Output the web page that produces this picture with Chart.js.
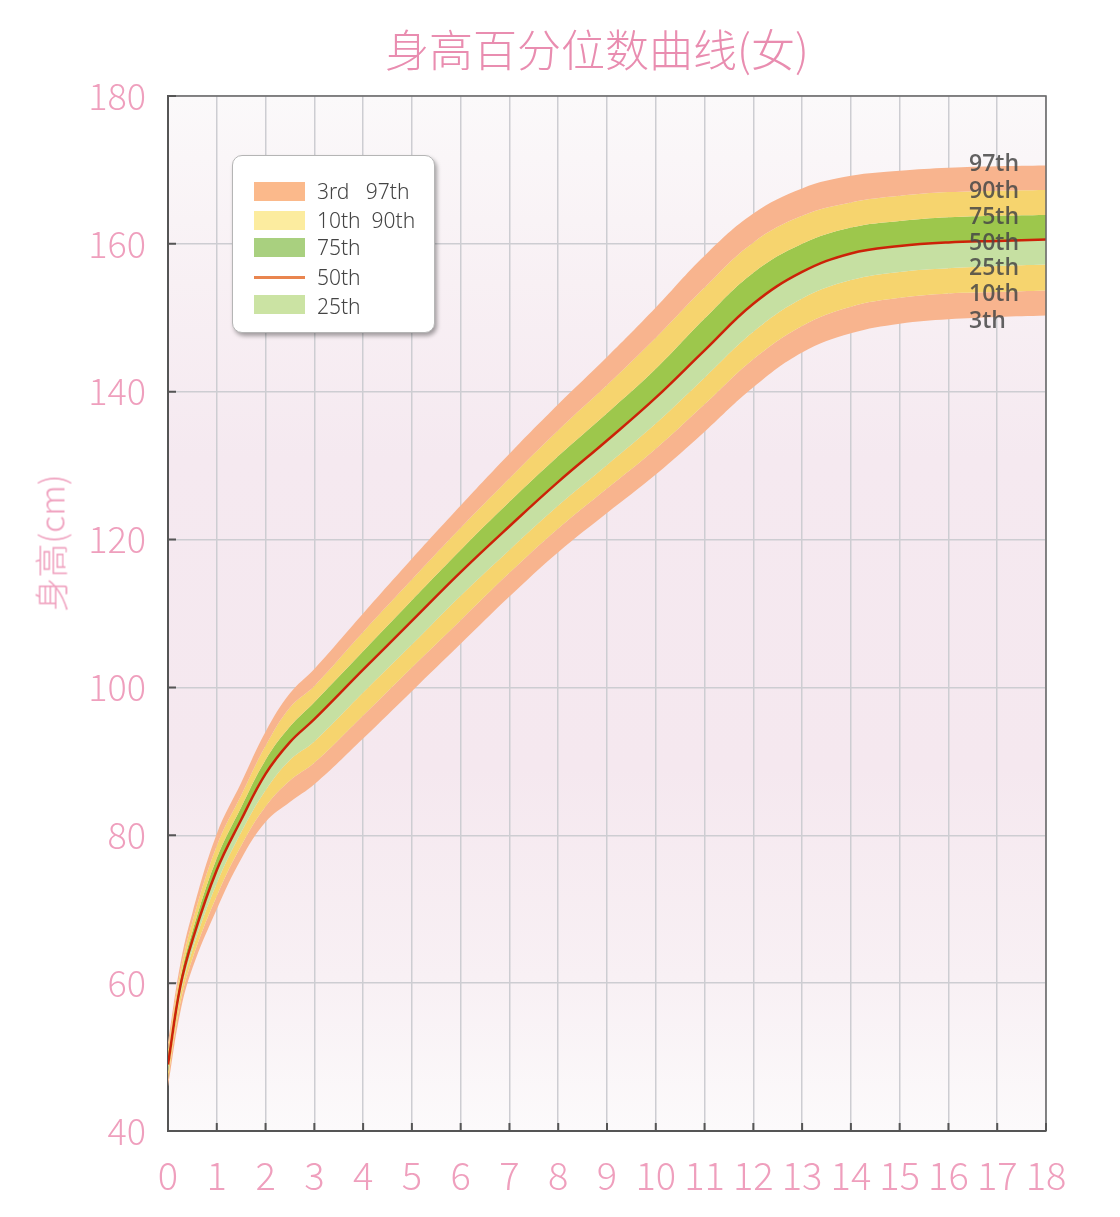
<!DOCTYPE html>
<html>
<head>
<meta charset="utf-8">
<script src="https://cdn.jsdelivr.net/npm/chart.js@4.4.1/dist/chart.umd.min.js"></script>
<style>
  html, body { margin: 0; padding: 0; background: #ffffff; }
  #wrap { position: relative; width: 1120px; height: 1217px; overflow: hidden; }
  canvas { position: absolute; left: 0; top: 0; }
  .title { position: absolute; left: 0; width: 1194px; top: 16px; text-align: center;
    font-family: "Noto Sans CJK SC", sans-serif; font-weight: 300; font-size: 44px; color: #e98db0; }
  .ytitle { position: absolute; left: 50px; top: 543px; transform: translate(-50%, -50%) rotate(-90deg);
    font-family: "Noto Sans CJK SC", sans-serif; font-weight: 300; font-size: 34px; color: #ef9fbd; white-space: nowrap; }
  .legend { position: absolute; left: 232px; top: 155px; width: 201px; height: 176px;
    background: #ffffff; border: 1.5px solid #b5b5b5; border-radius: 10px;
    box-shadow: 2px 3px 4px rgba(0,0,0,0.35); }
  .sw { position: absolute; left: 21px; width: 51px; height: 19px; }
  .lt { position: absolute; left: 84px; font-family: "Noto Sans", "Open Sans", sans-serif; font-weight: 300; font-size: 21px;
    color: #444; line-height: 22px; white-space: nowrap; }
  .rl { position: absolute; left: 969px; font-family: "Open Sans", "Noto Sans", sans-serif; font-weight: 600;
    font-size: 23px; color: rgba(70,70,70,0.85); line-height: 26px; }
</style>
</head>
<body>
<div id="wrap">
  <canvas id="c" width="1120" height="1217"></canvas>
  <div class="title">身高百分位数曲线(女)</div>
  <div class="ytitle">身高(cm)</div>
  <div class="legend">
    <div class="sw" style="top:26px;background:#fbb98b"></div>
    <div class="lt" style="top:24px">3rd&nbsp;&nbsp;&nbsp;97th</div>
    <div class="sw" style="top:55px;background:#fcec9f"></div>
    <div class="lt" style="top:53px">10th&nbsp;&nbsp;90th</div>
    <div class="sw" style="top:82px;background:#a9d07f"></div>
    <div class="lt" style="top:80px">75th</div>
    <div class="sw" style="top:120px;height:3px;background:#e9854f"></div>
    <div class="lt" style="top:110px">50th</div>
    <div class="sw" style="top:139px;background:#cbe3a3"></div>
    <div class="lt" style="top:139px">25th</div>
  </div>
  <div class="rl" style="top:149px">97th</div>
  <div class="rl" style="top:176px">90th</div>
  <div class="rl" style="top:202px">75th</div>
  <div class="rl" style="top:228px">50th</div>
  <div class="rl" style="top:253px">25th</div>
  <div class="rl" style="top:279px">10th</div>
  <div class="rl" style="top:306px">3th</div>
</div>
<script>
// ---- data (age in years, height in cm) ----
const ages = [0,0.25,0.5,1,1.5,2,2.5,3,4,5,6,7,8,9,10,11,12,13,14,15,16,17,18];
const p3  = [46.0,56.0,62.0,70.0,76.8,81.8,84.5,86.9,93.1,99.5,105.9,112.3,118.3,123.6,128.8,134.6,140.6,145.3,147.9,149.2,149.8,150.1,150.3];
const p10 = [47.0,57.2,63.3,71.8,78.6,83.9,87.4,89.8,96.2,102.7,109.1,115.5,121.5,126.9,132.3,138.3,144.4,148.9,151.5,152.7,153.3,153.5,153.7];
const p25 = [48.0,58.3,64.5,73.5,80.4,86.1,90.2,92.7,99.3,105.8,112.4,118.6,124.6,130.1,135.7,141.9,148.1,152.6,155.1,156.2,156.7,157.0,157.2];
const p50 = [49.0,59.5,65.8,75.3,82.1,88.3,92.6,95.7,102.4,109.0,115.6,121.8,127.8,133.4,139.2,145.6,151.9,156.2,158.7,159.7,160.2,160.4,160.6];
const p75 = [50.0,60.5,67.0,76.9,83.8,90.2,94.7,98.0,104.9,111.8,118.6,125.1,131.3,137.1,143.1,149.9,156.1,160.0,162.2,163.1,163.6,163.8,163.9];
const p90 = [51.0,61.5,68.3,78.6,85.4,92.1,97.3,100.2,107.5,114.6,121.6,128.3,134.8,140.9,147.3,154.1,160.2,163.8,165.6,166.5,167.0,167.2,167.3];
const p97 = [52.0,62.5,69.5,80.2,87.1,94.0,99.2,102.5,110.0,117.4,124.6,131.6,138.3,144.7,151.4,158.4,164.1,167.5,169.2,169.9,170.3,170.5,170.6];
const xTicks = [0,1,2,3,4,5,6,7,8,9,10,11,12,13,14,15,16,17,18];
const yTicks = [40,60,80,100,120,140,160,180];

const pts = arr => ages.map((a, i) => ({ x: a, y: arr[i] }));

const ORANGE = '#f8b48e', YELLOW = '#f6d46e', GREEN = '#9dc74c', LGREEN = '#c6e0a2', RED = '#cc2208';

function band(arr, color) {
  return { data: pts(arr), borderWidth: 0, borderColor: 'rgba(0,0,0,0)', backgroundColor: color,
    fill: '+1', pointRadius: 0, tension: 0.4, order: 1 };
}

const bgPlugin = {
  id: 'bg',
  beforeDraw(chart) {
    const { ctx, chartArea: a } = chart;
    const g = ctx.createLinearGradient(0, a.top, 0, a.bottom);
    g.addColorStop(0, '#fbf9fa');
    g.addColorStop(0.18, '#f8f0f4');
    g.addColorStop(0.35, '#f5e9f0');
    g.addColorStop(0.65, '#f5e8ef');
    g.addColorStop(0.85, '#f8f0f4');
    g.addColorStop(1, '#fcfafb');
    ctx.save();
    ctx.fillStyle = g;
    ctx.fillRect(a.left, a.top, a.right - a.left, a.bottom - a.top);
    ctx.restore();
  },
  afterDraw(chart) {
    const { ctx, chartArea: a, scales } = chart;
    ctx.save();
    ctx.strokeStyle = '#666';
    ctx.lineWidth = 1.5;
    ctx.beginPath();
    ctx.moveTo(a.left, a.top); ctx.lineTo(a.right, a.top); ctx.lineTo(a.right, a.bottom);
    ctx.stroke();
    ctx.strokeStyle = '#555';
    ctx.lineWidth = 2;
    ctx.beginPath();
    xTicks.forEach(t => { const x = scales.x.getPixelForValue(t); ctx.moveTo(x, a.bottom); ctx.lineTo(x, a.bottom - 8); });
    yTicks.forEach(t => { const y = scales.y.getPixelForValue(t); ctx.moveTo(a.left, y); ctx.lineTo(a.left + 8, y); });
    ctx.stroke();
    ctx.restore();
  }
};

new Chart(document.getElementById('c'), {
  type: 'line',
  data: {
    datasets: [
      band(p97, ORANGE),
      band(p90, YELLOW),
      band(p75, GREEN),
      band(p50, LGREEN),
      band(p25, YELLOW),
      band(p10, ORANGE),
      { data: pts(p3), borderWidth: 0, borderColor: 'rgba(0,0,0,0)', fill: false, pointRadius: 0, tension: 0.4, order: 1 },
      { data: pts(p50), borderWidth: 2.5, borderColor: RED, fill: false, pointRadius: 0, tension: 0.4, order: -1 }
    ]
  },
  options: {
    responsive: false,
    animation: false,
    layout: { padding: { top: 96, right: 74, left: 0, bottom: 0 } },
    plugins: { legend: { display: false }, tooltip: { enabled: false }, title: { display: false } },
    scales: {
      x: {
        type: 'linear', min: 0, max: 18,
        afterFit(s) { s.height = 86; },
        afterBuildTicks(s) { s.ticks = xTicks.map(v => ({ value: v })); },
        ticks: { autoSkip: false, maxRotation: 0, padding: 22, color: '#ef9fbd',
          font: { family: '"Noto Sans CJK SC", sans-serif', size: 38, weight: 300 } },
        grid: { color: '#cdcdd2', lineWidth: 1.5, drawTicks: false },
        border: { color: '#555', width: 2 }
      },
      y: {
        min: 40, max: 180,
        afterFit(s) { s.width = 168; },
        afterBuildTicks(s) { s.ticks = yTicks.map(v => ({ value: v })); },
        ticks: { padding: 22, color: '#ef9fbd',
          font: { family: '"Noto Sans CJK SC", sans-serif', size: 36, weight: 300 } },
        grid: { color: '#cdcdd2', lineWidth: 1.5, drawTicks: false },
        border: { color: '#555', width: 2 }
      }
    }
  },
  plugins: [bgPlugin]
});
</script>
</body>
</html>
